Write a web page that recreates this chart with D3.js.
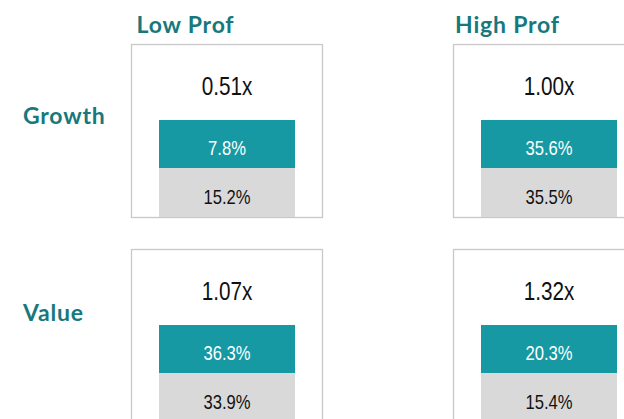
<!DOCTYPE html>
<html>
<head>
<meta charset="utf-8">
<script src="https://cdn.jsdelivr.net/npm/d3@7"></script>
<style>
  body { margin: 0; background: #fff; }
  .head { font-family: Lato, "Noto Sans", sans-serif; font-weight: 700; fill: #17787d; letter-spacing: 0.8px; }
  .num { font-family: "Liberation Sans Narrow", "Arial Narrow", "Liberation Sans", sans-serif; }
</style>
</head>
<body>
<div id="chart"></div>
<script>
// rows / columns of the grid
var rows = ["Growth", "Value"];
var cols = ["Low Prof", "High Prof"];
// multiple shown at the top of each box (row-major)
var multiples = ["0.51x", "1.00x", "1.07x", "1.32x"];
// teal (top) and gray (bottom) percentages
var topPct = [7.8, 35.6, 36.3, 20.3];
var bottomPct = [15.2, 35.5, 33.9, 15.4];

const width = 624, height = 419;
const boxW = 191, boxH = 173;
const narrow = 0.83; // no narrow font installed, squeeze instead

const svg = d3.select('#chart').append('svg')
    .attr('width', width)
    .attr('height', height);

const x = d3.scalePoint().domain(cols).range([131, 453]);
const y = d3.scalePoint().domain(rows).range([44, 249]);
const labelY = d3.scalePoint().domain(rows).range([115.5, 312.5]);

const cells = [];
rows.forEach((r, i) => {
    cols.forEach((c, j) => {
        const k = i * cols.length + j;
        cells.push({ row: r, col: c, mult: multiples[k], top: topPct[k], bottom: bottomPct[k] });
    });
});

// column headers
svg.selectAll('text.colhead')
    .data(cols)
    .enter()
    .append('text')
    .attr('class', 'head colhead')
    .attr('x', d => x(d) + boxW / 2 - 41)
    .attr('y', 33)
    .attr('text-anchor', 'middle')
    .attr('font-size', 23)
    .text(d => d);

// row labels
svg.selectAll('text.rowhead')
    .data(rows)
    .enter()
    .append('text')
    .attr('class', 'head rowhead')
    .attr('x', 23)
    .attr('y', d => labelY(d))
    .attr('dy', '0.35em')
    .attr('font-size', 23)
    .text(d => d);

const g = svg.selectAll('g.cell')
    .data(cells)
    .enter()
    .append('g')
    .attr('class', 'cell')
    .attr('transform', d => `translate(${x(d.col)},${y(d.row)})`);

g.append('rect')
    .attr('x', 0.5).attr('y', 0.5)
    .attr('width', boxW).attr('height', boxH)
    .attr('fill', '#fff')
    .attr('stroke', '#c8c8c8')
    .attr('stroke-width', 1.3);

function label(sel, cx, cy, size, color, fn) {
    sel.append('text')
        .attr('class', 'num')
        .attr('transform', `translate(${cx},${cy}) scale(${narrow},1)`)
        .attr('text-anchor', 'middle')
        .attr('font-size', size)
        .attr('fill', color)
        .text(fn);
}

label(g, boxW / 2 + 0.5, 51, 25, '#111', d => d.mult);

// teal bar
g.append('rect')
    .attr('x', 28).attr('y', 76)
    .attr('width', 136).attr('height', 48)
    .attr('fill', '#1699a3');

label(g, 96, 111, 20, '#fff', d => d.top.toFixed(1) + '%');

// gray bar
g.append('rect')
    .attr('x', 28).attr('y', 124)
    .attr('width', 136).attr('height', 49)
    .attr('fill', '#d9d9d9');

label(g, 96, 159.5, 20, '#111', d => d.bottom.toFixed(1) + '%');
</script>
</body>
</html>
